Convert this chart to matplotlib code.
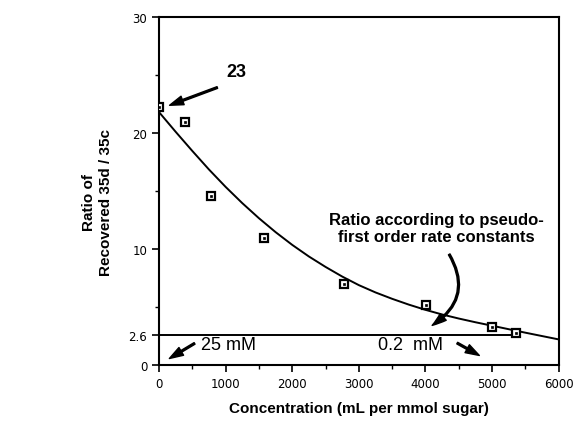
import matplotlib
matplotlib.use("Agg")
import matplotlib.pyplot as plt
import numpy as np

plt.rcParams['font.family'] = ['Liberation Sans', 'DejaVu Sans']

# measured points
conc = [0, 390, 780, 1575, 2775, 4005, 4995, 5355]
ratio = [22.2, 20.9, 14.6, 10.9, 7.0, 5.2, 3.3, 2.76]

# ratio from pseudo-first order rate constants
curve_x = [0, 250, 500, 750, 1000, 1250, 1500, 1750, 2000, 2250, 2500, 2750, 3000,
           3250, 3500, 3750, 4000, 4250, 4500, 4750, 5000, 5250, 5500, 5750, 6000]
curve_y = [21.8, 20.1, 18.45, 16.85, 15.35, 13.95, 12.65, 11.45, 10.35, 9.35, 8.45, 7.62, 6.88,
           6.25, 5.7, 5.2, 4.75, 4.35, 4.0, 3.68, 3.38, 3.08, 2.78, 2.49, 2.2]

# 25 mM limit line
limit_x = [0, 5400]
limit_y = [2.6, 2.6]

xticks = [0, 1000, 2000, 3000, 4000, 5000, 6000]
yticks = [0, 2.6, 10, 20, 30]
ytick_labels = ['0', '2.6', '10', '20', '30']

fig = plt.figure(figsize=(5.76, 4.27), dpi=100)
ax = fig.add_axes([0.276, 0.143, 0.694, 0.815])

ax.plot(curve_x, curve_y, color='black', lw=1.4, zorder=2)
ax.plot(limit_x, limit_y, color='black', lw=1.4, zorder=2)
ax.plot(conc, ratio, ls='none', marker='s', ms=5.5, mfc='white', mec='black', mew=1.6, zorder=3)
ax.plot(conc, ratio, ls='none', marker='s', ms=1.5, mfc='black', mec='black', mew=0.5, zorder=4)

ax.set_xlim(0, 6000)
ax.set_ylim(0, 30)
ax.set_xticks(xticks)
ax.set_xticks(np.arange(500, 6000, 1000), minor=True)
ax.set_yticks(yticks)
ax.set_yticklabels(ytick_labels)
ax.set_yticks([5, 15, 25], minor=True)
ax.tick_params(which='major', direction='out', length=5, width=1.2, labelsize=8.5)
ax.tick_params(which='minor', direction='out', length=3, width=1.0)
for lab in ax.get_xticklabels() + ax.get_yticklabels():
    lab.set_family('DejaVu Sans')
for s in ax.spines.values():
    s.set_linewidth(1.5)

ax.set_xlabel('Concentration (mL per mmol sugar)', fontsize=11, fontweight='bold', labelpad=8)
ax.set_ylabel('Ratio of\nRecovered 35d / 35c', fontsize=11, fontweight='bold', linespacing=1.3)
ax.yaxis.set_label_coords(-0.115, 0.47)

arrow = dict(arrowstyle='simple,head_width=0.65,head_length=1.0,tail_width=0.13', fc='black', ec='black')

ax.annotate('', xy=(120, 22.3), xytext=(915, 24.0), arrowprops=arrow)
ax.text(1005, 25.3, '23', fontsize=13, fontweight='bold', ha='left', va='center')
ax.annotate('', xy=(120, 0.43), xytext=(570, 1.98), arrowprops=arrow)
ax.text(630, 1.8, '25 mM', fontsize=13, ha='left', va='center')
ax.text(3285, 1.8, '0.2  mM', fontsize=13, ha='left', va='center')
ax.annotate('', xy=(4845, 0.7), xytext=(4440, 2.0), arrowprops=arrow)

ax.text(4170, 11.8, 'Ratio according to pseudo-\nfirst order rate constants', fontsize=12,
        fontweight='bold', ha='center', va='center', multialignment='center')
curved = dict(arrow, connectionstyle='arc3,rad=-0.5')
ax.annotate('', xy=(4065, 3.28), xytext=(4335, 9.74), arrowprops=curved)

fig.savefig('out.png', dpi=100)
